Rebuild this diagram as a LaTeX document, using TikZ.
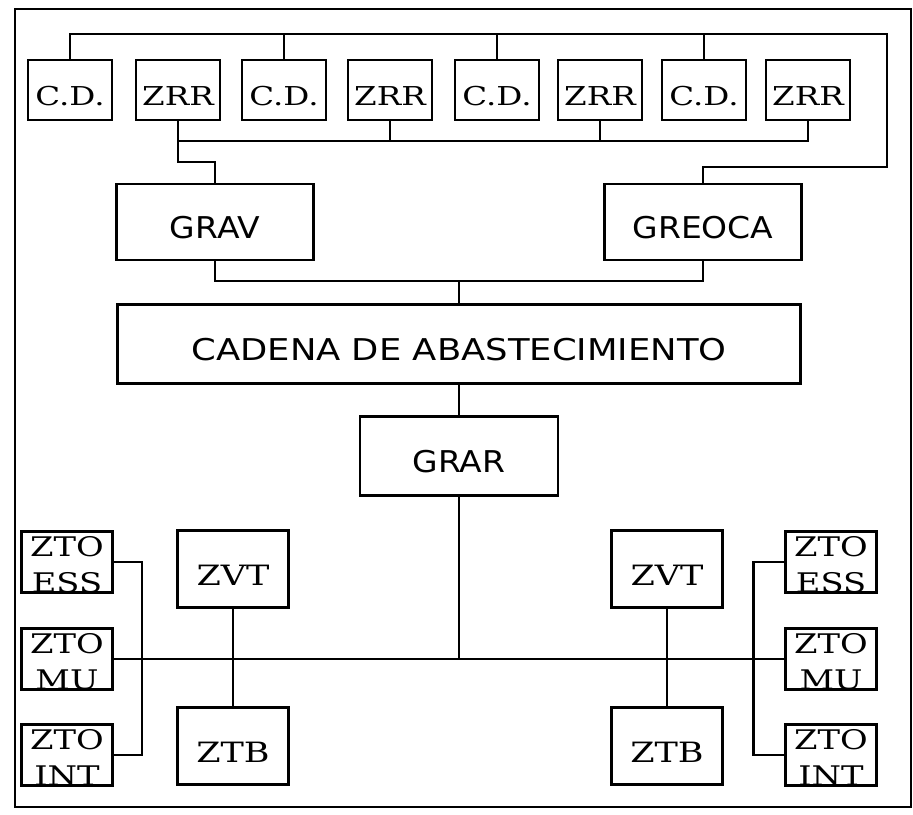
\documentclass[tikz,border=0pt]{standalone}
\usepackage{fontspec}
\newfontfamily\boxserif[FakeStretch=1.25]{DejaVu Serif}
\newfontfamily\boxsans[FakeStretch=1.1]{DejaVu Sans}
\newfontfamily\widesans[FakeStretch=1.18]{DejaVu Sans}
\newcommand{\twoline}[2]{\raisebox{-30pt}[0pt][0pt]{\begin{tabular}[b]{@{}c@{}}#1\\#2\end{tabular}}}

\tikzset{
  topbox/.style={draw, inner sep=0pt, minimum width=84pt, minimum height=60pt, text height=31pt,
    font=\boxserif\fontsize{26}{31}\selectfont},
  midbox/.style={draw, inner sep=0pt, minimum width=197pt, minimum height=76pt, text height=34pt,
    font=\boxsans\fontsize{30}{36}\selectfont},
  zbox/.style={draw, inner sep=0pt, minimum width=111pt, minimum height=77pt, text height=32pt,
    font=\boxserif\fontsize{28}{34}\selectfont},
  ztobox/.style={draw, inner sep=0pt, minimum width=91pt, minimum height=61pt,
    font=\boxserif\fontsize{27}{36}\selectfont}
}

\begin{document}
\begin{tikzpicture}[x=1pt, y=-1pt, line width=2.2pt]
        \useasboundingbox (0,0) rectangle (913,814);
        \draw[line width=2.4pt] (15,9) rectangle (911,807);

        % top row
        \node[topbox] (cdA) at (70,90) {C.D.};
        \node[topbox] (zrrA) at (178,90) {ZRR};
        \node[topbox] (cdB) at (284,90) {C.D.};
        \node[topbox] (zrrB) at (390,90) {ZRR};
        \node[topbox] (cdC) at (497,90) {C.D.};
        \node[topbox] (zrrC) at (600,90) {ZRR};
        \node[topbox] (cdD) at (704,90) {C.D.};
        \node[topbox] (zrrD) at (808,90) {ZRR};

        \node[midbox] (grav) at (215,222) {GRAV};
        \node[midbox] (greoca) at (703,222) {GREOCA};
        \node[midbox, minimum width=683pt, minimum height=79pt, font=\widesans\fontsize{30}{36}\selectfont] (cadena) at (459,344) {CADENA DE ABASTECIMIENTO};
        \node[midbox, minimum width=198pt, minimum height=79pt] (grar) at (459,456) {GRAR};

        % bottom part
        \node[ztobox] (essL) at (67,562) {\twoline{ZTO}{ESS}};
        \node[ztobox] (muL) at (67,659) {\twoline{ZTO}{MU}};
        \node[ztobox] (intL) at (67,755) {\twoline{ZTO}{INT}};
        \node[zbox] (zvtL) at (233,569) {ZVT};
        \node[zbox] (ztbL) at (233,746) {ZTB};
        \node[zbox] (zvtR) at (667,569) {ZVT};
        \node[zbox] (ztbR) at (667,746) {ZTB};
        \node[ztobox] (essR) at (831,562) {\twoline{ZTO}{ESS}};
        \node[ztobox] (muR) at (831,659) {\twoline{ZTO}{MU}};
        \node[ztobox] (intR) at (831,755) {\twoline{ZTO}{INT}};

        \coordinate (topbus) at (887,34);
        \coordinate (turn) at (0,167);
        \coordinate (zbus) at (0,141);
        \coordinate (gjog) at (0,162);
        \coordinate (join) at (459,281);

        \draw (cdA.north) |- (topbus) -- (topbus |- turn) -| (greoca.north);
        \foreach \n in {cdB,cdC,cdD}
          \draw (\n.north) -- (\n.north |- topbus);

        \draw (zrrA.south) -- (zrrA.south |- gjog) -| (grav.north);
        \draw (zrrA.south |- zbus) -- (zrrD.south |- zbus) -- (zrrD.south);
        \foreach \n in {zrrB,zrrC}
          \draw (\n.south) -- (\n.south |- zbus);

        \draw (grav.south) |- (join) -| (greoca.south);
        \draw (join) -- (cadena.north);
        \draw (cadena) -- (grar);
        \draw (grar.south) -- (grar.south |- muL.east);
        \draw (muL.east) -- (muR.west);

        \draw (essL.east) -- ++(28,0) |- (intL.east);
        \draw (essR.west) -- ++(-31,0) |- (intR.west);
        \draw (zvtL) -- (ztbL);
        \draw (zvtR) -- (ztbR);

      \end{tikzpicture}
\end{document}
